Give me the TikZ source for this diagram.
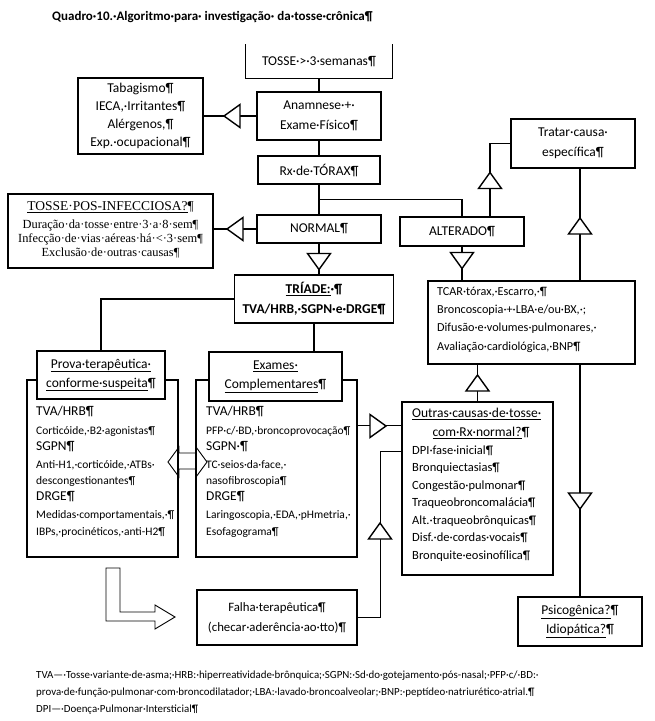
\documentclass[tikz,border=0pt]{standalone}
\usepackage{fontspec}
\setmainfont{Carlito}
\newfontfamily\tnr{Liberation Serif}
\usetikzlibrary{calc}
\newcommand{\fsz}[2]{\fontsize{#1}{#2}\selectfont}
\begin{document}
\begin{tikzpicture}[x=1pt,y=-1pt,
  ln/.style={line width=1.4pt},
  thin/.style={line width=0.9pt},
  box/.style={draw, line width=1.4pt, fill=white, inner sep=0pt, align=center, font=\fsz{13.5}{19.5}},
  body/.style={draw, line width=1.4pt, inner sep=0pt},
  bt/.style={inner sep=0pt, anchor=mid west, font=\fsz{13.5}{16}},
  st/.style={inner sep=0pt, anchor=mid west, font=\fsz{11.5}{14}},
  mt/.style={inner sep=0pt, anchor=mid west, font=\fsz{12.2}{14}},
  ot/.style={inner sep=0pt, anchor=mid west, font=\fsz{12.5}{14}},
  pt/.style={inner sep=0pt, font=\tnr\fsz{12.4}{14}},
  ft/.style={inner sep=0pt, anchor=mid west, font=\fsz{10.9}{12}},
  triR/.pic={\draw[ln, fill=white] (8,0) -- (-8,-11.5) -- (-8,11.5) -- cycle;},
  triL/.pic={\draw[ln, fill=white] (-8,0) -- (8,-11.5) -- (8,11.5) -- cycle;},
  triU/.pic={\draw[ln, fill=white] (0,-8) -- (-11.5,8) -- (11.5,8) -- cycle;},
  triD/.pic={\draw[ln, fill=white] (0,8) -- (-11.5,-8) -- (11.5,-8) -- cycle;}
]
\useasboundingbox (0,0) rectangle (655,721);
\fill[white] (0,0) rectangle (655,721);

% title
\node[inner sep=0pt, anchor=mid west, font=\bfseries\fsz{13}{15}] (title) at (52,18) {Quadro·10.·Algoritmo·para· investigação· da·tosse·crônica¶};

% top column
\node[box, draw=none, fill=none, minimum width=146pt, minimum height=33pt] (tosse) at (319,61.5) {TOSSE·>·3·semanas¶};
\draw[ln] (tosse.north west) -- (tosse.south west) -- (tosse.south east) -- (tosse.north east);
\node[box, minimum width=124pt, minimum height=48pt] (anam) at (319,116) {Anamnese·+·\\Exame·Físico¶};
\node[box, minimum width=122pt, minimum height=28pt] (rx) at (319,170) {Rx·de·TÓRAX¶};
\node[box, minimum width=124pt, minimum height=28pt] (normal) at (319,229) {NORMAL¶};
\node[box, minimum width=125pt, minimum height=76pt, font=\fsz{13.5}{18}] (tab) at (140.5,116) {Tabagismo¶\\IECA,·Irritantes¶\\Alérgenos,¶\\Exp.·ocupacional¶};

% post-infectious
\node[box, minimum width=205pt, minimum height=74pt] (pos) at (110.5,231) {};
\node[pt, font=\tnr\fsz{13.5}{15}] (pos1) at (110.5,207) {\underline{TOSSE·POS-INFECCIOSA?}¶};
\node[pt] (pos2) at (110.5,226) {Duração·da·tosse·entre·3·a·8·sem¶};
\node[pt] (pos3) at (110.5,239.5) {Infecção·de·vias·aéreas·há·<·3·sem¶};
\node[pt] (pos4) at (110.5,253) {Exclusão·de·outras·causas¶};

% right column
\node[box, minimum width=124pt, minimum height=29pt] (alt) at (462,231.5) {ALTERADO¶};
\node[box, minimum width=124pt, minimum height=49pt, font=\fsz{13.5}{20}] (tratar) at (573,143.5) {Tratar·causa·\\específica¶};
\node[box, minimum width=207pt, minimum height=83pt] (tcar) at (531.5,322.5) {};
\node[mt] (tc1) at (437,293) {TCAR·tórax,·Escarro,·¶};
\node[mt] (tc2) at (437,311) {Broncoscopia·+·LBA·e/ou·BX,·;};
\node[mt] (tc3) at (437,329.5) {Difusão·e·volumes·pulmonares,·};
\node[mt] (tc4) at (437,348) {Avaliação·cardiológica,·BNP¶};

% triad
\node[box, minimum width=159pt, minimum height=48pt, font=\bfseries\fsz{13.5}{20}] (triade) at (314,299) {\underline{TRÍADE:}·¶\\TVA/HRB,·SGPN·e·DRGE¶};

% double hollow arrow (behind the body boxes)
\draw[thin, fill=white] (168,462) -- (179,447) -- (179,453) -- (196,453) -- (196,447) -- (207,462) -- (196,477) -- (196,469) -- (179,469) -- (179,477) -- cycle;

% bodies
\node[body, minimum width=151pt, minimum height=177pt] (provaB) at (102.5,468.5) {};
\node[body, minimum width=161pt, minimum height=177pt] (examB) at (276.5,468.5) {};
\node[box, minimum width=128pt, minimum height=48pt, font=\fsz{13.5}{19}] (provaH) at (101,375) {\underline{Prova·terapêutica·}\\\underline{conforme·suspeita}¶};
\node[box, minimum width=133pt, minimum height=49pt, font=\fsz{13.5}{19}] (examH) at (275.5,376.5) {\underline{Exames·}\\\underline{Complementares}¶};

\node[bt] (p1) at (36,413) {TVA/HRB¶};
\node[st] (p2) at (36,432) {Corticóide,·B2·agonistas¶};
\node[bt] (p3) at (36,448.5) {SGPN¶};
\node[st] (p4) at (36,466) {Anti-H1,·corticóide,·ATBs·};
\node[st] (p5) at (36,482) {descongestionantes¶};
\node[bt] (p6) at (36,498.5) {DRGE¶};
\node[st] (p7) at (36,516) {Medidas·comportamentais,·¶};
\node[st] (p8) at (36,533) {IBPs,·procinéticos,·anti-H2¶};

\node[bt] (x1) at (206,413) {TVA/HRB¶};
\node[st] (x2) at (206,432) {PFP·c/·BD,·broncoprovocação¶};
\node[bt] (x3) at (206,448.5) {SGPN·¶};
\node[st] (x4) at (206,466) {TC·seios·da·face,·};
\node[st] (x5) at (206,482) {nasofibroscopia¶};
\node[bt] (x6) at (206,498.5) {DRGE¶};
\node[st] (x7) at (206,516) {Laringoscopia,·EDA,·pHmetria,·};
\node[st] (x8) at (206,533) {Esofagograma¶};

% other causes
\node[box, minimum width=151pt, minimum height=173pt] (outras) at (477.5,488.5) {};
\node[ot, font=\fsz{13.5}{15}] (o1) at (412,415) {\underline{Outras·causas·de·tosse·}};
\node[ot, anchor=mid, font=\fsz{13.5}{15}] (o2t) at (481,434) {\underline{com·Rx·normal?}¶};
\node[ot] (o3) at (412,452) {DPI·fase·inicial¶};
\node[ot] (o4) at (412,469.5) {Bronquiectasias¶};
\node[ot] (o5) at (412,487) {Congestão·pulmonar¶};
\node[ot] (o6) at (412,504.5) {Traqueobroncomalácia¶};
\node[ot] (o7) at (412,522) {Alt.·traqueobrônquicas¶};
\node[ot] (o8) at (412,539.5) {Disf.·de·cordas·vocais¶};
\node[ot] (o9) at (412,557) {Bronquite·eosinofílica¶};

% bottom
\node[box, minimum width=160pt, minimum height=55pt, font=\fsz{12.8}{20}] (falha) at (277,617.5) {Falha·terapêutica¶\\(checar·aderência·ao·tto)¶};
\node[box, minimum width=124pt, minimum height=49pt, font=\fsz{13.5}{18.5}] (psico) at (580,621.5) {\underline{Psicogênica?}¶\\\underline{Idiopática?}¶};

% L-shaped hollow arrow
\draw[thin, fill=white] (106,568) -- (120,568) -- (120,612) -- (155,612) -- (155,605) -- (175,617) -- (155,629) -- (155,621) -- (106,621) -- cycle;

% connectors
\draw[ln] (tosse.south) -- (anam.north);
\draw[ln] (anam.south) -- (rx.north);
\draw[ln] (rx.south) -- (normal.north);
\coordinate (j1) at ($(rx.south)!0.5!(normal.north)$);
\draw[ln] (j1) -| (alt.north);
\draw[ln] (anam.west) -- (anam.west -| tab.east);
\draw[ln] (normal.west) -- (normal.west -| pos.east);
\draw[ln] (normal.south) -- (normal.south |- triade.north);
\draw[ln] (triade.west) -| (provaH.north);
\draw[ln] (triade.south) -- (triade.south |- examH.north);
\coordinate (e1) at ($(examB.north east)+(0,46)$);
\draw[ln] (e1) -- (e1 -| outras.west);
\coordinate (o2) at ($(outras.north west)+(0,50)$);
\draw[ln] (falha.east) -- ++(23,0) |- (o2);
\coordinate (a1) at ($(alt.north)+(28,0)$);
\draw[ln] (tratar.west) -| (a1);
\draw[ln] (tratar.south -| psico.north) -- (tcar.north -| psico.north);
\draw[ln] (alt.south) -- (alt.south |- tcar.north);
\draw[ln] (outras.north |- tcar.south) -- (outras.north);
\draw[ln] (tcar.south -| psico.north) -- (psico.north);

% triangles
\pic at (232,116) {triL};
\pic at (235,229) {triL};
\pic at (319,261.5) {triD};
\pic at (490,180.5) {triU};
\pic at (462,260.5) {triD};
\pic at (580,226) {triU};
\pic at (378,426) {triR};
\pic at (380,531) {triU};
\pic at (477.5,383) {triU};
\pic at (580,501) {triD};

% footnote
\node[ft] (fn1) at (36,676) {TVA—·Tosse·variante·de·asma;·HRB:·hiperreatividade·brônquica;·SGPN:·Sd·do·gotejamento·pós-nasal;·PFP·c/·BD:·};
\node[ft] (fn2) at (36,693) {prova·de·função·pulmonar·com·broncodilatador;·LBA:·lavado·broncoalveolar;·BNP:·peptídeo·natriurético·atrial.¶};
\node[ft] (fn3) at (36,710) {DPI—·Doença·Pulmonar·Intersticial¶};
\end{tikzpicture}
\end{document}
